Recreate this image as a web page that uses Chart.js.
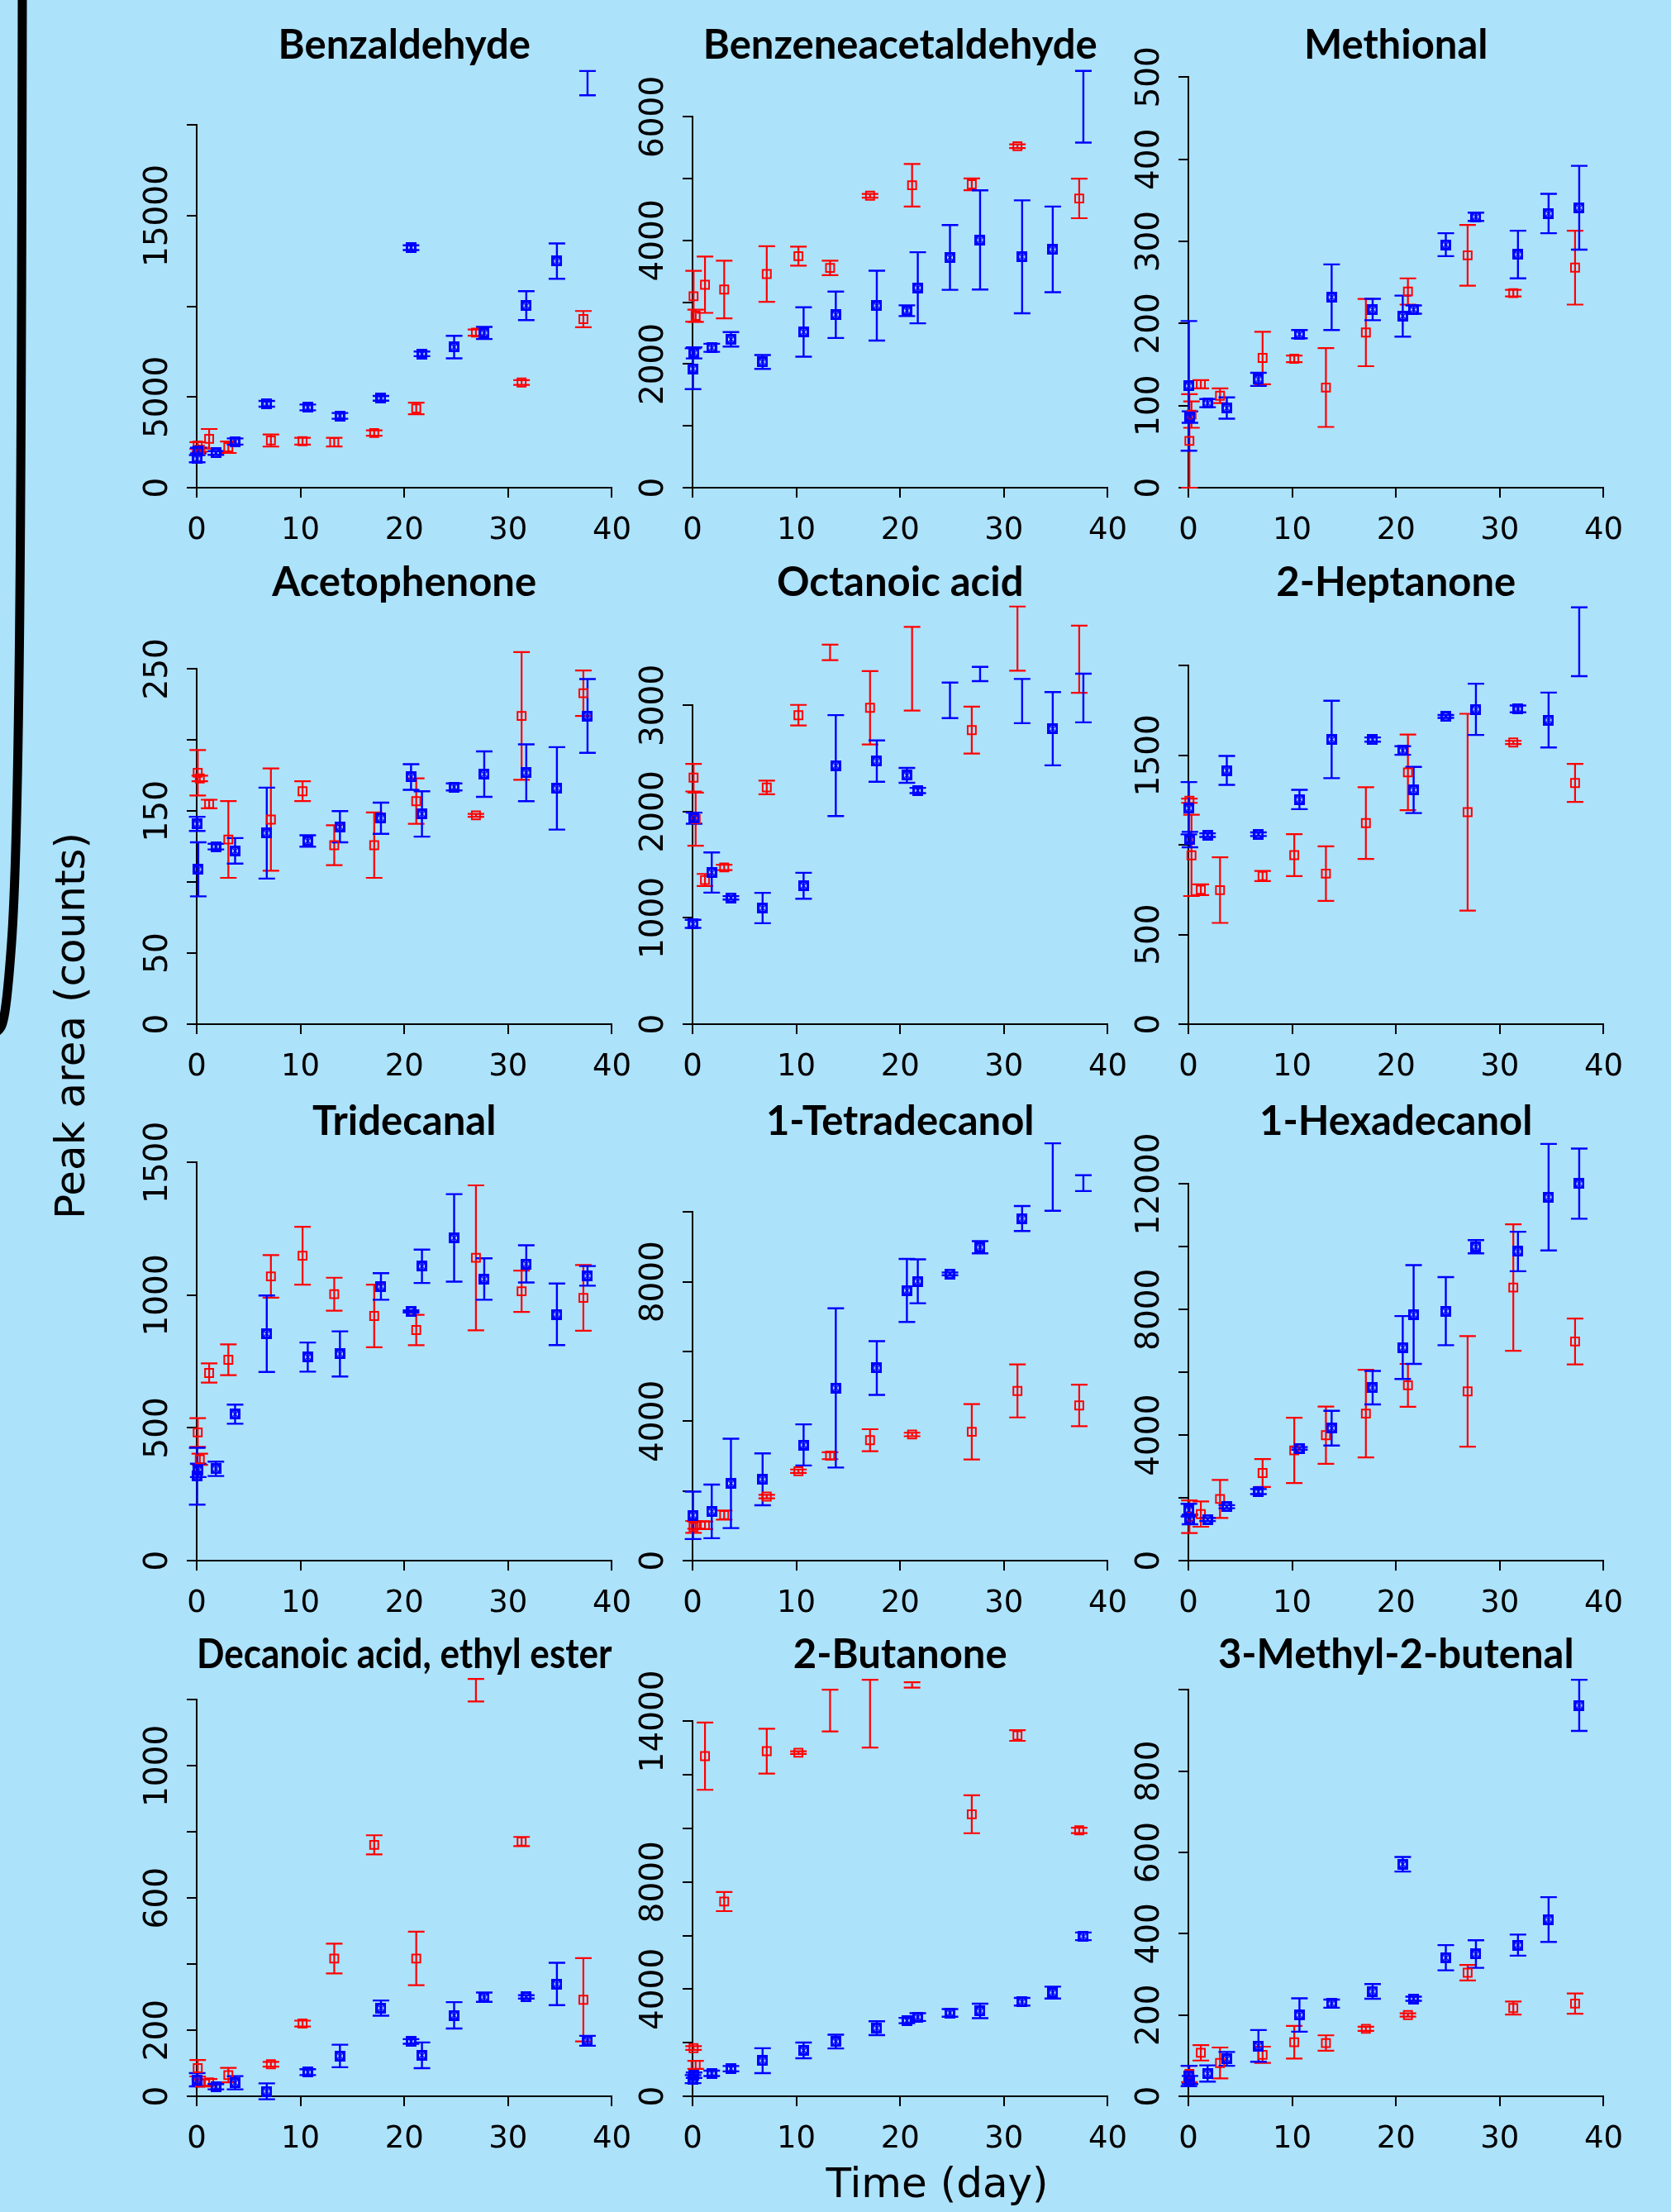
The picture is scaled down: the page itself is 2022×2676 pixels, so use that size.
<!DOCTYPE html>
<html><head><meta charset="utf-8">
<script src="https://cdn.jsdelivr.net/npm/chart.js@4.4.1/dist/chart.umd.min.js"></script>
<style>
html,body{margin:0;padding:0;background:#ADE2FB;}
#page{position:relative;width:2022px;height:2676px;overflow:hidden;background:#ADE2FB;}
#page canvas{position:absolute;}
.axt{position:absolute;font-family:"DejaVu Sans";font-size:50px;line-height:1;color:#000;white-space:nowrap;}
</style></head>
<body><div id="page">
<svg style="position:absolute;left:0;top:0" width="60" height="1300"><path d="M27 -5 C 26 600, 24 1000, 14 1140 S 0 1230 -12 1260" stroke="#000" stroke-width="11" fill="none"/></svg>
<div class="axt" style="left:85px;top:1241px;transform:translate(-50%,-50%) rotate(-90deg);">Peak area (counts)</div>
<div class="axt" style="left:1134px;top:2641px;transform:translate(-50%,-50%);">Time (day)</div>
</div>
<script>
// ---------------- DATA ----------------
const titles = ["Benzaldehyde", "Benzeneacetaldehyde", "Methional", "Acetophenone", "Octanoic acid", "2-Heptanone",
  "Tridecanal", "1-Tetradecanol", "1-Hexadecanol", "Decanoic acid, ethyl ester", "2-Butanone", "3-Methyl-2-butenal"];

const blueDays = [0.05, 0.15, 1.85, 3.7, 6.75, 10.7, 13.8, 17.75, 20.65, 21.7, 24.8, 27.7, 31.75, 34.7, 37.65];
const redDays  = [0.1, 0.3, 1.2, 3.05, 7.15, 10.2, 13.25, 17.1, 21.15, 26.9, 31.3, 37.25];

const xTickValues = [0, 10, 20, 30, 40];
const yTickMax  = [20000, 6000, 500, 250, 3000, 2000, 1500, 10000, 12000, 1200, 14000, 1000];
const yTickStep = [5000, 1000, 100, 50, 1000, 500, 500, 2000, 2000, 200, 2000, 200];
const yTickLabels = [[0,5000,15000],[0,2000,4000,6000],[0,100,200,300,400,500],[0,50,150,250],[0,1000,2000,3000],[0,500,1500],
  [0,500,1000,1500],[0,4000,8000],[0,4000,8000,12000],[0,200,600,1000],[0,4000,8000,14000],[0,200,400,600,800]];

const benzaldehydeBlue    = [1600, 2050, 1916, 2548, 4631, 4427, 3962, 4929, 13243, 7384, 7756, 8537, 10044, 12499, 22320];
const benzaldehydeBlueErr = [200, 150, 100, 170, 160, 160, 160, 130, 130, 130, 620, 335, 800, 975, 670];
const benzaldehydeRed     = [2325, 2100, 2697, 2232, 2604, 2567, 2511, 3013, 4371, 8556, 5803, 9300];
const benzaldehydeRedErr  = [190, 110, 540, 316, 335, 190, 240, 150, 316, 170, 130, 446];

const benzeneacetaldehydeBlue    = [1925, 2182, 2264, 2400, 2035, 2520, 2798, 2945, 2864, 3235, 3725, 4009, 3736, 3856, 6164];
const benzeneacetaldehydeBlueErr = [330, 90, 65, 117, 112, 400, 376, 565, 87, 575, 524, 802, 914, 693, 580];
const benzeneacetaldehydeRed     = [3098, 2782, 3284, 3207, 3458, 3747, 3556, 4724, 4893, 4909, 5525, 4680];
const benzeneacetaldehydeRedErr  = [412, 98, 455, 466, 450, 153, 117, 30, 344, 95, 30, 320];

const methionalBlue    = [124, 86, 103, 97, 132, 187, 232, 217, 209, 217, 296, 330, 284, 334, 341];
const methionalBlueErr = [79, 7, 5, 13, 8, 5, 40, 13, 25, 5, 14, 5, 29, 24, 51];
const methionalRed     = [57, 89, 126, 112, 158, 157, 122, 189, 239, 283, 237, 268];
const methionalRedErr  = [57, 16, 5, 9, 32, 4, 48, 41, 16, 37, 4, 45];

const acetophenoneBlue    = [141, 109, 125, 122, 134.5, 129, 139, 145, 174, 148, 167, 176, 177, 166, 217];
const acetophenoneBlueErr = [5, 19, 2, 9, 32, 4, 11, 11, 9, 16, 2.5, 16, 20, 29, 26];
const acetophenoneRed     = [177, 173, 155, 130, 144, 164, 126, 126, 157, 147, 217, 233];
const acetophenoneRedErr  = [16, 2, 3, 27, 36, 7, 14, 23, 16, 1, 45, 16];

const octanoicBlue    = [944, 1939, 1427, 1189, 1093, 1303, 2434, 2476, 2342, 2199, 3048, 3296, 3041, 2781, 3070];
const octanoicBlueErr = [38, 52, 189, 16, 143, 122, 475, 195, 70, 25, 167, 67, 208, 345, 229];
const octanoicRed     = [2320, 1930, 1357, 1475, 2228, 2908, 3499, 2978, 3346, 2768, 3629, 3435];
const octanoicRedErr  = [130, 250, 57, 25, 64, 97, 73, 345, 394, 221, 302, 316];

const heptanoneBlue    = [1205, 1030, 1055, 1416, 1060, 1254, 1589, 1588, 1527, 1307, 1717, 1757, 1759, 1697, 2134];
const heptanoneBlueErr = [146, 43, 10, 81, 10, 54, 216, 12, 24, 129, 8, 143, 19, 153, 192];
const heptanoneRed     = [1247, 942, 750, 748, 827, 943, 840, 1122, 1405, 1183, 1572, 1346];
const heptanoneRedErr  = [12, 227, 30, 183, 28, 117, 152, 200, 211, 549, 9, 106];

const tridecanalBlue    = [318, 340, 346, 552, 855, 767, 779, 1033, 939, 1109, 1216, 1061, 1118, 928, 1073];
const tridecanalBlueErr = [107, 25, 27, 36, 144, 55, 85, 50, 4, 63, 165, 78, 70, 116, 37];
const tridecanalRed     = [483, 382, 707, 757, 1071, 1149, 1004, 922, 869, 1141, 1015, 990];
const tridecanalRedErr  = [54, 21, 36, 58, 80, 109, 62, 118, 57, 273, 78, 124];

const tetradecanolBlue    = [1300, null, 1413, 2217, 2333, 3320, 4956, 5527, 7754, 8015, 8228, 8993, 9816, 11007, 10832];
const tetradecanolBlueErr = [680, null, 770, 1283, 745, 590, 2285, 770, 905, 630, 40, 174, 358, 968, 227];
const tetradecanolRed     = [968, 1016, 1016, 1307, 1839, 2565, 3011, 3456, 3620, 3698, 4869, 4453];
const tetradecanolRedErr  = [170, 100, 110, 130, 50, 50, 100, 315, 50, 794, 760, 595];

const hexadecanolBlue    = [1610, 1310, 1311, 1719, 2202, 3577, 4222, 5511, 6790, 7842, 7950, 10002, 9851, 11581, 12011];
const hexadecanolBlueErr = [200, 150, 50, 50, 80, 40, 553, 532, 1004, 1574, 1085, 209, 628, 1697, 1117];
const hexadecanolRed     = [1400, null, 1483, 1966, 2793, 3513, 3996, 4684, 5586, 5393, 8702, 6983];
const hexadecanolRedErr  = [520, null, 403, 607, 446, 1042, 913, 1397, 682, 1762, 2014, 730];

const decanoateBlue    = [50, null, 29, 41, 15, 73, 122, 267, 166, 124, 245, 300, 301, 340, 168];
const decanoateBlueErr = [20, null, 8, 20, 24, 9, 34, 23, 7, 39, 40, 14, 5, 64, 15];
const decanoateRed     = [85, 41, 42, 64, 97, 220, 417, 761, 417, 1229, 771, 292];
const decanoateRedErr  = [25, 10, 10, 22, 7, 9, 45, 29, 81, 34, 14, 126];

const butanoneBlue    = [640, 786, 857, 1029, 1329, 1714, 2043, 2543, 2829, 2957, 3114, 3186, 3529, 3871, 5971];
const butanoneBlueErr = [150, 100, 100, 100, 464, 293, 257, 257, 100, 143, 143, 271, 143, 221, 143];
const butanoneRed     = [1800, 1171, 12700, 7271, 12886, 12829, 14400, 14286, 15357, 10529, 13471, 9929];
const butanoneRedErr  = [70, 150, 1257, 357, 836, 50, 779, 1264, 100, 707, 200, 100];

const methylbutenalBlue    = [50, 40, 56, 92, 124, 200, 228, 258, 571, 240, 341, 350, 372, 435, 962];
const methylbutenalBlueErr = [25, 10, 20, 17, 39, 41, 10, 18, 18, 5, 31, 34, 26, 55, 63];
const methylbutenalRed     = [55, null, 107, 82, 102, 133, 131, 166, 200, 304, 217, 228];
const methylbutenalRedErr  = [20, null, 19, 38, 20, 40, 19, 5, 4, 19, 16, 25];

const seriesBlue = [benzaldehydeBlue, benzeneacetaldehydeBlue, methionalBlue, acetophenoneBlue, octanoicBlue, heptanoneBlue,
  tridecanalBlue, tetradecanolBlue, hexadecanolBlue, decanoateBlue, butanoneBlue, methylbutenalBlue];
const seriesBlueErr = [benzaldehydeBlueErr, benzeneacetaldehydeBlueErr, methionalBlueErr, acetophenoneBlueErr, octanoicBlueErr, heptanoneBlueErr,
  tridecanalBlueErr, tetradecanolBlueErr, hexadecanolBlueErr, decanoateBlueErr, butanoneBlueErr, methylbutenalBlueErr];
const seriesRed = [benzaldehydeRed, benzeneacetaldehydeRed, methionalRed, acetophenoneRed, octanoicRed, heptanoneRed,
  tridecanalRed, tetradecanolRed, hexadecanolRed, decanoateRed, butanoneRed, methylbutenalRed];
const seriesRedErr = [benzaldehydeRedErr, benzeneacetaldehydeRedErr, methionalRedErr, acetophenoneRedErr, octanoicRedErr, heptanoneRedErr,
  tridecanalRedErr, tetradecanolRedErr, hexadecanolRedErr, decanoateRedErr, butanoneRedErr, methylbutenalRedErr];

// ---------------- LAYOUT ----------------
const colLeft = [238, 838, 1438];
const rowBottom = [590, 1239, 1888, 2536];
const plotTop = [151, 141, 93, 809, 853, 805, 1406, 1466, 1432, 2056, 2082, 2044];
const rowTitleY = [55, 705, 1357, 2002];
const PLOT_W = 502, YAXIS_W = 120, XAXIS_H = 75, RIGHT_PAD = 40;
const X_TICK_FONT = {family: 'DejaVu Sans', size: 37};
const Y_TICK_FONT = {family: 'DejaVu Sans', size: 39};
const TITLE_FONT = {family: 'Lato', size: 49, weight: 'bold', lineHeight: 1.2};
const TITLE_HALF = 49 * 1.2 / 2;
const BLUE = '#0000ff', RED = '#ff0000', CAP = 10;

function blueMarker() {
  const c = document.createElement('canvas'); c.width = 13; c.height = 13;
  const g = c.getContext('2d');
  g.strokeStyle = BLUE; g.lineWidth = 3; g.strokeRect(1.5, 1.5, 10, 10);
  g.lineWidth = 1.5; g.beginPath(); g.moveTo(3, 3); g.lineTo(10, 10); g.moveTo(10, 3); g.lineTo(3, 10); g.stroke();
  return c;
}
const BLUE_MARK = blueMarker();

const errorBars = {
  id: 'errorBars',
  beforeDatasetsDraw(chart) {
    const {ctx} = chart; const xs = chart.scales.x, ys = chart.scales.y;
    for (let d = chart.data.datasets.length - 1; d >= 0; d--) {
      const ds = chart.data.datasets[d];
      ctx.save(); ctx.strokeStyle = ds.errColor; ctx.lineWidth = ds.errWidth; ctx.lineCap = 'butt';
      ds.data.forEach(p => {
        const px = xs.getPixelForValue(p.x);
        const y1 = ys.getPixelForValue(p.y - p.e), y2 = ys.getPixelForValue(p.y + p.e);
        ctx.beginPath();
        ctx.moveTo(px, y1); ctx.lineTo(px, y2);
        ctx.moveTo(px - CAP, y1); ctx.lineTo(px + CAP, y1);
        ctx.moveTo(px - CAP, y2); ctx.lineTo(px + CAP, y2);
        ctx.stroke();
      });
      ctx.restore();
    }
  }
};

function points(days, vals, errs) {
  const out = [];
  days.forEach((d, k) => { if (vals[k] != null) out.push({x: d, y: vals[k], e: errs[k] || 0}); });
  return out;
}

const mctx = document.createElement('canvas').getContext('2d');
mctx.font = Y_TICK_FONT.size + 'px "' + Y_TICK_FONT.family + '"';
const page = document.getElementById('page');

function build(i, w, h, titlePadBottom) {
  const canvas = document.createElement('canvas');
  canvas.width = w; canvas.height = h;
  page.appendChild(canvas);
  const labelSet = yTickLabels[i];
  const widest = Math.max(...labelSet.map(v => mctx.measureText(String(v)).width));
  const gridOpts = {drawOnChartArea: false, drawTicks: true, tickLength: 12, color: '#000', lineWidth: 2};
  const chart = new Chart(canvas, {
    type: 'scatter',
    data: {datasets: [
      {label: 'blue', data: points(blueDays, seriesBlue[i], seriesBlueErr[i]), pointStyle: BLUE_MARK,
       borderColor: BLUE, backgroundColor: BLUE, errColor: BLUE, errWidth: 2.4, clip: false},
      {label: 'red', data: points(redDays, seriesRed[i], seriesRedErr[i]), pointStyle: 'rect', pointRadius: 7,
       borderColor: RED, backgroundColor: 'rgba(0,0,0,0)', borderWidth: 2, errColor: RED, errWidth: 2.2, clip: false}
    ]},
    options: {
      responsive: false, maintainAspectRatio: false, animation: false, devicePixelRatio: 1,
      layout: {padding: {left: 0, right: RIGHT_PAD, top: 0, bottom: 0}},
      plugins: {
        legend: {display: false}, tooltip: {enabled: false},
        title: {display: true, text: titles[i], color: '#000', font: TITLE_FONT, fullSize: false, align: 'center',
                padding: {top: 0, bottom: titlePadBottom}}
      },
      scales: {
        x: {type: 'linear', min: xTickValues[0], max: xTickValues[xTickValues.length - 1],
            afterFit: s => { s.height = XAXIS_H; },
            afterBuildTicks: s => { s.ticks = xTickValues.map(v => ({value: v})); },
            ticks: {font: X_TICK_FONT, color: '#000', padding: 18, maxRotation: 0, autoSkip: false},
            grid: gridOpts, border: {display: true, color: '#000', width: 2}},
        y: {type: 'linear', min: 0, max: yTickMax[i],
            afterFit: s => { s.width = YAXIS_W; },
            ticks: {stepSize: yTickStep[i], autoSkip: false, minRotation: 90, maxRotation: 90, crossAlign: 'center',
                    padding: 34 - widest / 2, font: Y_TICK_FONT, color: '#000',
                    callback: v => labelSet.includes(v) ? String(v) : ''},
            grid: gridOpts, border: {display: true, color: '#000', width: 2}}
      }
    },
    plugins: [errorBars]
  });
  return {canvas, chart};
}

titles.forEach((t, i) => {
  const col = i % 3, row = Math.floor(i / 3);
  const L = colLeft[col], B = rowBottom[row], T = plotTop[i], H = B - T;
  const pb = Math.max(0, T - rowTitleY[row] - TITLE_HALF);
  let w = YAXIS_W + PLOT_W + RIGHT_PAD, h = Math.round(2 * TITLE_HALF + pb + H + XAXIS_H);
  let r = build(i, w, h, pb);
  let ca = r.chart.chartArea;
  const dw = Math.round(PLOT_W - (ca.right - ca.left)), dh = Math.round(H - (ca.bottom - ca.top));
  if (dw !== 0 || dh !== 0) {
    r.chart.destroy(); r.canvas.remove();
    r = build(i, w + dw, h + dh, pb);
    ca = r.chart.chartArea;
  }
  r.canvas.style.left = (L - ca.left) + 'px';
  r.canvas.style.top = (T - ca.top) + 'px';
});
</script>
</body></html>
